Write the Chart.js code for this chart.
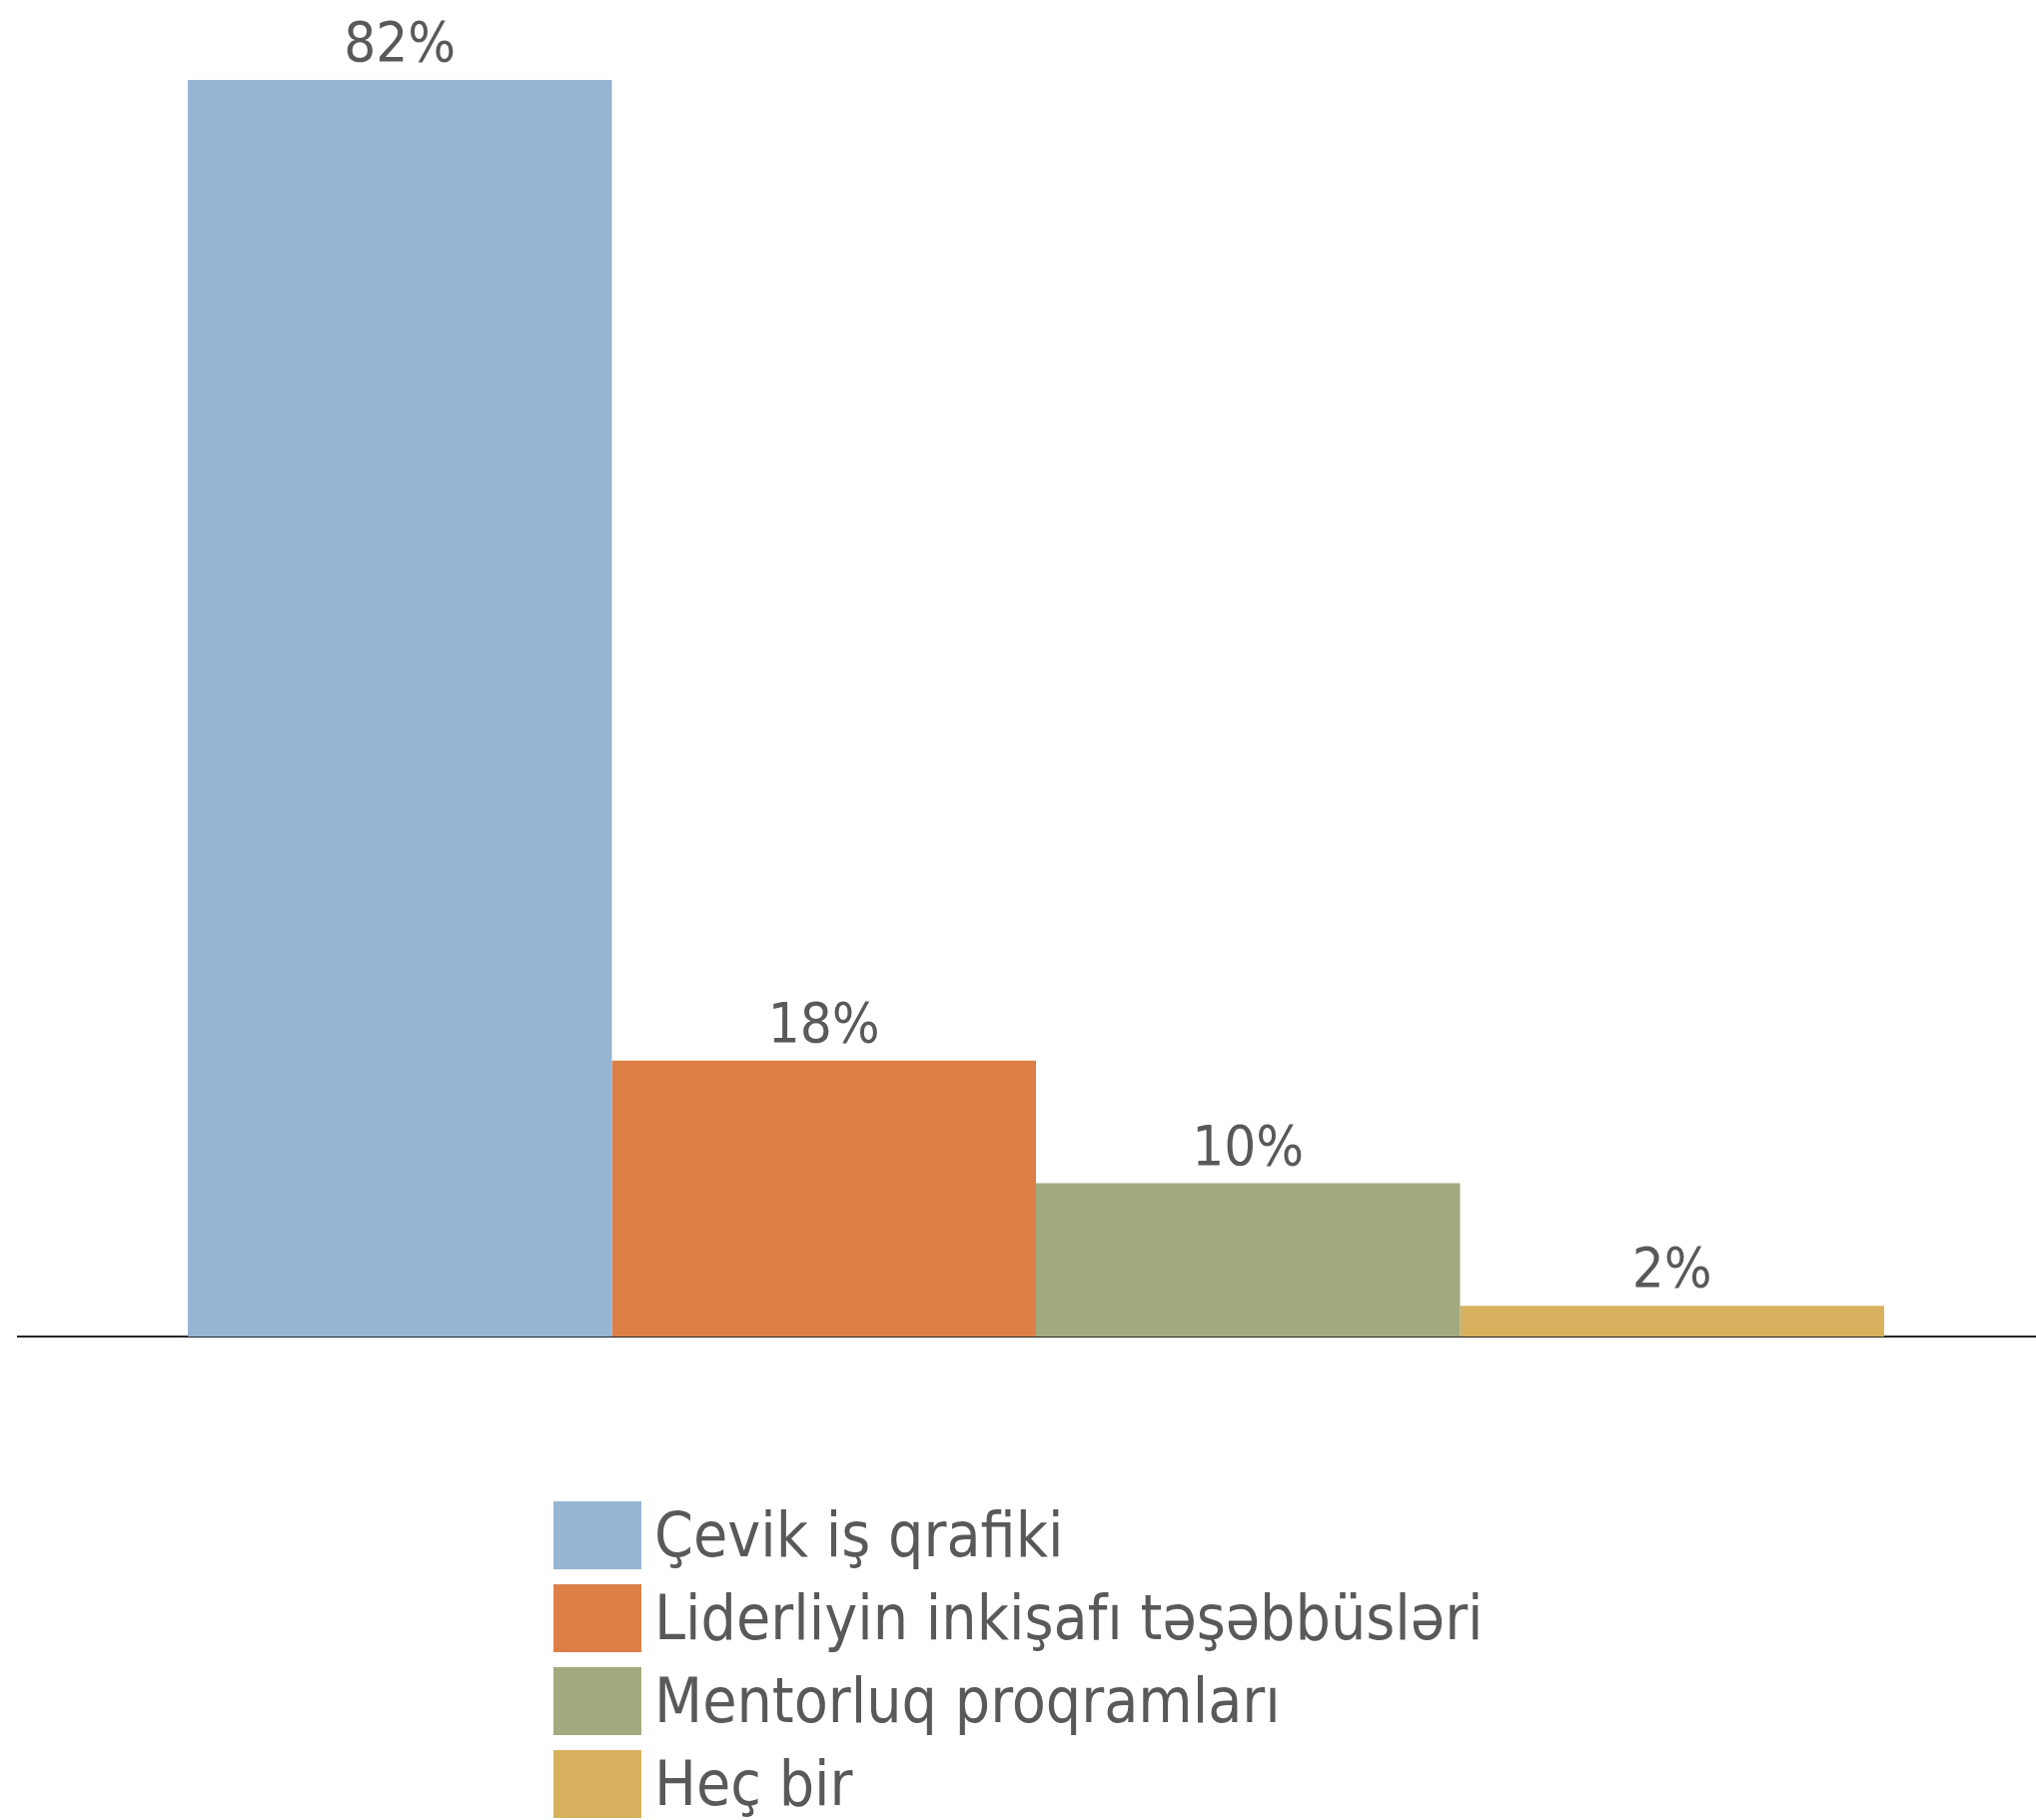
<!DOCTYPE html>
<html>
<head>
<meta charset="utf-8">
<script src="https://cdn.jsdelivr.net/npm/chart.js@4.4.1/dist/chart.umd.min.js"></script>
<style>
  body { margin: 0; background: #fff; overflow: hidden; }
  #wrap { position: relative; width: 2038px; height: 1822px; overflow: hidden; }
  /* canvas is a bit wider than the page so the axis runs off the right edge */
  #chartBox { position: absolute; left: 0; top: 0; width: 2056px; height: 1400px; }
  #legend {
    position: absolute; left: 554px; top: 1503px;
    display: flex; flex-direction: column; gap: 15px;
    font-family: "DejaVu Sans Condensed", "DejaVu Sans", sans-serif;
    font-size: 62px; color: #595959;
  }
  .item { display: flex; align-items: center; height: 68px; }
  .swatch { width: 88px; height: 68px; margin-right: 13px; flex: none; }
  .item span { line-height: 68px; white-space: nowrap; }
</style>
</head>
<body>
<div id="wrap">
  <div id="chartBox"><canvas id="barChart"></canvas></div>
  <div id="legend"></div>
</div>
<script>
// -----------------------------------------
// data
// -----------------------------------------

const seriesNames = [
  "Çevik iş qrafiki",
  "Liderliyin inkişafı təşəbbüsləri",
  "Mentorluq proqramları",
  "Heç bir"
];

const seriesValues = [82, 18, 10, 2];

const seriesColors = ["#95B5D3", "#DD8048", "#A4AA7F", "#D7B15D"];

const TEXT_COLOR = "#595959";
const FONT = "DejaVu Sans Condensed";


// -----------------------------------------
// percent labels over each bar
// -----------------------------------------

const valueLabels = {
  id: "valueLabels",
  afterDatasetsDraw(chart) {
    const ctx = chart.ctx;
    ctx.save();
    ctx.fillStyle = TEXT_COLOR;
    ctx.font = "56px '" + FONT + "'";
    ctx.textAlign = "center";
    ctx.textBaseline = "alphabetic";
    chart.data.datasets.forEach((ds, i) => {
      const bar = chart.getDatasetMeta(i).data[0];
      ctx.fillText(ds.data[0] + "%", bar.x, bar.y - 19);
    });
    ctx.restore();
  }
};


// -----------------------------------------
// chart
// -----------------------------------------

const chart = new Chart(document.getElementById("barChart"), {
  type: "bar",
  data: {
    labels: [""],
    datasets: seriesNames.map((name, i) => ({
      label: name,
      data: [seriesValues[i]],
      backgroundColor: seriesColors[i],
      borderWidth: 0,
      barPercentage: 1,
      categoryPercentage: 0.8332
    }))
  },
  options: {
    responsive: true,
    maintainAspectRatio: false,
    animation: false,
    layout: {
      padding: { left: 18, right: 0, top: 34, bottom: 54 }
    },
    plugins: {
      legend: { display: false },
      tooltip: { enabled: false }
    },
    scales: {
      x: {
        grid: { display: false },
        ticks: { display: false },
        border: { display: true, color: "#262626", width: 2 }
      },
      y: {
        display: false,
        min: 0,
        max: 85
      }
    }
  },
  plugins: [valueLabels]
});


// -----------------------------------------
// legend, one row per series
// -----------------------------------------

const legendEl = document.getElementById("legend");
chart.data.datasets.forEach(ds => {
  const row = document.createElement("div");
  row.className = "item";
  const box = document.createElement("div");
  box.className = "swatch";
  box.style.background = ds.backgroundColor;
  const txt = document.createElement("span");
  txt.textContent = ds.label;
  row.appendChild(box);
  row.appendChild(txt);
  legendEl.appendChild(row);
});
</script>
</body>
</html>
